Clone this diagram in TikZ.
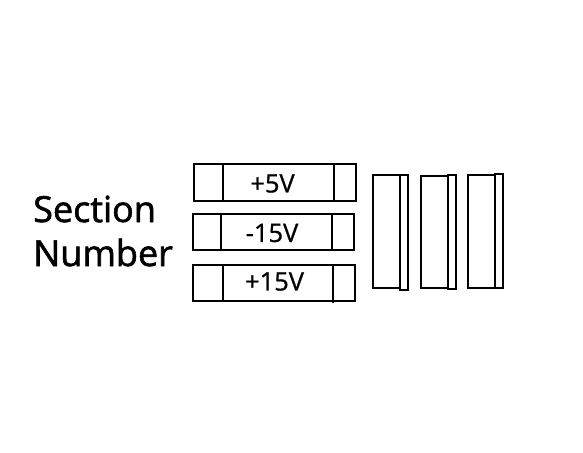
\documentclass[tikz,border=0pt]{standalone}
\usepackage{fontspec}
\setmainfont{Open Sans}
\newfontfamily\heavyfont[FakeBold=1.6]{Open Sans}
\newfontfamily\midfont[FakeBold=0.8]{Open Sans}
\begin{document}
\begin{tikzpicture}[x=1pt,y=-1pt,
  lw/.style={line width=2pt, line join=miter},
  lbl/.style={inner sep=0pt, font=\midfont\fontsize{25.5}{30}\selectfont},
  big/.style={inner sep=0pt, font=\heavyfont\fontsize{36}{44}\selectfont, align=left, anchor=west}]
\useasboundingbox (0,0) rectangle (583,452);
% horizontal boxes
\draw[lw] (194,164) rectangle (356,200.5);
\draw[lw] (222.7,164) -- (222.7,200.5) (334,164) -- (334,200.5);
\node[lbl] (t1) at (272.5,183.5) {+5V};
\draw[lw] (192.7,214) rectangle (354,250);
\draw[lw] (220.7,214) -- (220.7,250) (331.7,214) -- (331.7,250);
\node[lbl] (t2) at (272,233) {-15V};
\draw[lw] (192.7,265) rectangle (355,300.5);
\draw[lw] (222.7,265) -- (222.7,300.5) (333.3,265) -- (333.3,303);
\node[lbl] (t3) at (274.5,281.5) {+15V};
% vertical boxes
\draw[lw] (373.3,175) rectangle (400,288);
\draw[lw] (400,175) rectangle (407.7,289.5);
\draw[lw] (421,175.5) rectangle (448.3,288);
\draw[lw] (448.3,175) rectangle (455.7,288.5);
\draw[lw] (468.3,175) rectangle (495,287.5);
\draw[lw] (495,174) rectangle (502.7,288.3);
% label
\node[big] (sec) at (33,231) {Section\\Number};
\end{tikzpicture}
\end{document}
